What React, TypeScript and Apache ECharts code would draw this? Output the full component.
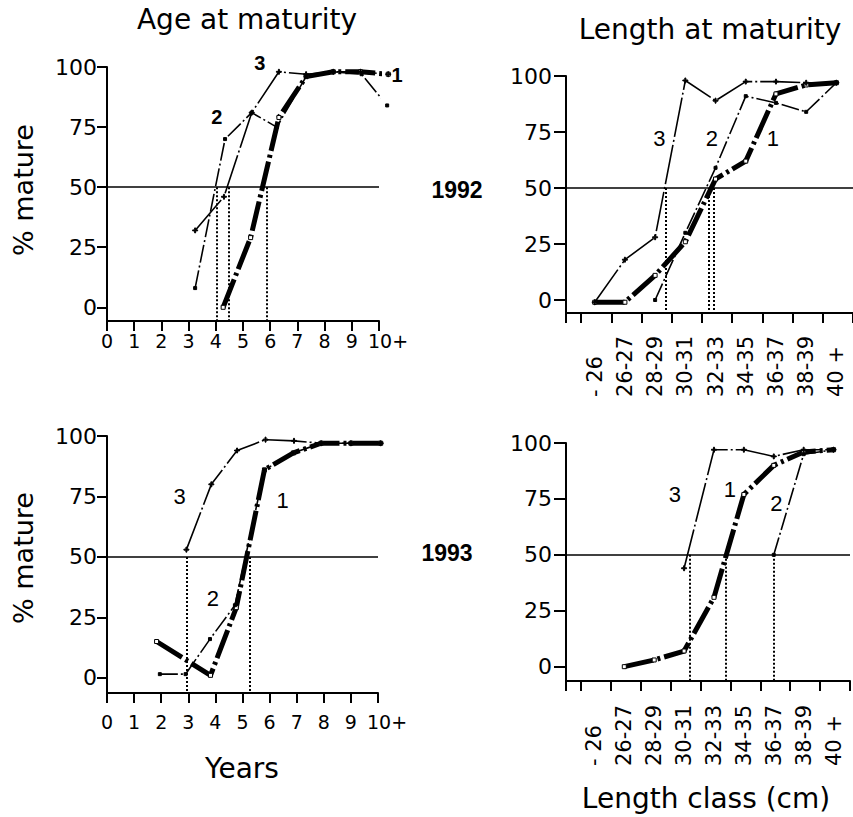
import React, { useEffect, useRef } from "react";
import * as echarts from "echarts";

// ---------- data ----------
const yearTicks = [0, 1, 2, 3, 4, 5, 6, 7, 8, 9, 10];
const pctTicks = [0, 25, 50, 75, 100];
const lengthClasses = ["- 26", "26-27", "28-29", "30-31", "32-33", "34-35", "36-37", "38-39", "40 +"];
const curveNames = ["1", "2", "3"];

// Age at maturity 1992 (age as plotted, % mature)
const age92Curve1Age = [4.27, 5.28, 6.32, 7.32, 8.32, 9.32, 10.34];
const age92Curve1Pct = [0, 29, 79, 96, 98, 98, 97];
const age92Curve2Age = [3.24, 4.34, 5.32, 6.24, 7.32, 8.32, 9.36, 10.3];
const age92Curve2Pct = [8, 70, 81, 75, 96, 98, 97, 84];
const age92Curve3Age = [3.24, 4.3, 5.32, 6.32, 7.32, 8.32, 9.32, 10.34];
const age92Curve3Pct = [32, 46, 81, 98, 97, 98, 98, 97];
const age92A50 = [4.05, 4.47, 5.87];
const age92LabelAge = [10.66, 4.04, 5.62];
const age92LabelPct = [96.5, 79, 101.5];

// Age at maturity 1993
const age93Curve1Age = [1.83, 3.82, 4.77, 5.81, 6.88, 7.9, 9.0, 10.1];
const age93Curve1Pct = [15, 1, 29, 86, 93, 97, 97, 97];
const age93Curve2Age = [1.95, 2.9, 3.8, 4.72, 5.81, 6.88, 7.9, 9.0, 10.1];
const age93Curve2Pct = [1.5, 1.5, 16, 30, 86, 93, 97, 97, 97];
const age93Curve3Age = [2.93, 3.85, 4.8, 5.85, 6.9, 7.9, 9.0, 10.1];
const age93Curve3Pct = [53, 80, 94, 98.5, 98, 97, 97, 97];
const age93A50 = [2.93, 5.25];
const age93LabelAge = [6.48, 3.91, 2.68];
const age93LabelPct = [73.4, 32.8, 74.8];

// Length at maturity 1992 (% mature per length class)
const len92Curve1 = [-1, -1, 11, 26, 54, 62, 92, 96, 97];
const len92Curve2 = [null, null, 0, 30, 59, 91, 88, 84, 97];
const len92Curve3 = [-1, 18, 28, 98, 89, 97.5, 97.5, 97, 97];
const len92L50 = [2.81, 4.22, 4.38]; // in class widths from the first class boundary
const len92LabelPos = [6.35, 4.33, 2.59];
const len92LabelPct = [72, 72, 72];

// Length at maturity 1993
const len93Curve1 = [null, 0, 3, 7, 31, 77, 90, 96, 97];
const len93Curve2 = [null, null, null, null, null, null, 50, 95, 97];
const len93Curve3 = [null, null, null, 44, 97, 97, 94, 97, 97];
const len93L50 = [3.65, 4.85, 6.45];
const len93LabelPos = [4.98, 6.54, 3.14];
const len93LabelPct = [79, 73, 77];

// ---------- styling helpers ----------
const BLACK = "#000";
const GEN = "DejaVu Sans";
const HELV = "Liberation Sans";
const PLUS = "path://M4,0H6V4H10V6H6V10H4V6H0V4H4Z";
const CLASS_CENTER = 0.45;

const CURVE_STYLE = [
  { width: 5, dash: [30, 4, 3, 4], symbol: "rect", size: 4, fill: "#fff", z: 3 },
  { width: 1.6, dash: [18, 3, 2, 3], symbol: "rect", size: 3, fill: BLACK, z: 4 },
  { width: 1.6, dash: [40, 3, 2, 3], symbol: PLUS, size: 5, fill: BLACK, z: 4 },
];

const zip = (xs: number[], ys: number[]) => xs.map((x, i) => [x, ys[i]]);
const classData = (vals: (number | null)[]) =>
  vals
    .map((v, i) => (v === null ? null : [i + CLASS_CENTER, v]))
    .filter((d) => d !== null) as number[][];

function curve(idx: number, k: number, data: number[][], extra: any = {}) {
  const s = CURVE_STYLE[k];
  return {
    type: "line",
    name: curveNames[k],
    xAxisIndex: idx,
    yAxisIndex: idx,
    data,
    clip: false,
    symbol: s.symbol,
    symbolSize: s.size,
    showSymbol: true,
    z: s.z,
    lineStyle: { color: BLACK, width: s.width, type: s.dash, cap: "butt" },
    itemStyle: { color: s.fill, borderColor: BLACK, borderWidth: 1 },
    ...extra,
  };
}

function refLines(a50: number[], yMin: number) {
  return {
    markLine: {
      silent: true,
      symbol: "none",
      animation: false,
      label: { show: false },
      lineStyle: { color: BLACK, width: 1.5, type: "solid" },
      data: [
        { yAxis: 50 },
        ...a50.map((x) => [
          { coord: [x, 50], lineStyle: { color: BLACK, width: 2, type: [2, 2] } },
          { coord: [x, yMin] },
        ]),
      ],
    },
  };
}

function labels(idx: number, xs: number[], ys: number[], size: number, weight: string) {
  return {
    type: "scatter",
    xAxisIndex: idx,
    yAxisIndex: idx,
    clip: false,
    silent: true,
    symbolSize: 1,
    itemStyle: { color: "rgba(0,0,0,0)", opacity: 1 },
    emphasis: { disabled: true },
    z: 6,
    data: curveNames.map((n, i) => ({ name: n, value: [xs[i], ys[i]] })),
    label: {
      show: true,
      position: "inside",
      formatter: "{b}",
      fontFamily: HELV,
      fontSize: size,
      fontWeight: weight,
      color: BLACK,
      opacity: 1,
      textBorderWidth: 0,
    },
  };
}

const axisLine = { show: true, onZero: false, lineStyle: { color: BLACK, width: 2 } };

function yAxis(idx: number, yMin: number, margin: number, tickLen: number) {
  return {
    type: "value",
    gridIndex: idx,
    min: yMin,
    max: 100,
    axisLine,
    axisTick: { show: true, length: tickLen, customValues: pctTicks, lineStyle: { color: BLACK, width: 2 } },
    axisLabel: { show: true, margin, customValues: pctTicks, fontFamily: GEN, fontSize: 22, color: BLACK },
    splitLine: { show: false },
  };
}

function ageAxis(idx: number, margin: number) {
  return {
    type: "value",
    gridIndex: idx,
    min: yearTicks[0],
    max: yearTicks[yearTicks.length - 1],
    interval: 1,
    axisLine,
    axisTick: { show: true, length: 10, lineStyle: { color: BLACK, width: 2 } },
    axisLabel: {
      show: true,
      margin,
      fontFamily: GEN,
      fontSize: 19,
      color: BLACK,
      formatter: (v: number) => (v === 10 ? "{p|10+}" : String(v)),
      rich: { p: { padding: [0, 0, 0, 18], fontFamily: GEN, fontSize: 19, color: BLACK } },
    },
    splitLine: { show: false },
  };
}

function lengthAxis(idx: number, margin: number) {
  const bounds = [-0.5, ...lengthClasses.map((_, i) => i), lengthClasses.length];
  return {
    type: "value",
    gridIndex: idx,
    min: -0.5,
    max: lengthClasses.length,
    axisLine,
    axisTick: { show: true, length: 10, customValues: bounds, lineStyle: { color: BLACK, width: 2 } },
    axisLabel: {
      show: true,
      margin,
      rotate: 90,
      align: "left",
      verticalAlign: "middle",
      customValues: lengthClasses.map((_, i) => i + CLASS_CENTER),
      formatter: (v: number) => lengthClasses[Math.floor(v)] ?? "",
      fontFamily: GEN,
      fontSize: 21,
      color: BLACK,
    },
    splitLine: { show: false },
  };
}

const Y_MIN = [-5.7, -5.8, -6.3, -6.4]; // TL, TR, BL, BR

function text(t: string, x: number, y: number, size: number, font: string, weight = "normal", rotation = 0) {
  return {
    type: "text",
    x,
    y,
    rotation,
    style: {
      text: t,
      fill: BLACK,
      font: `${weight} ${size}px "${font}"`,
      textAlign: "center",
      textVerticalAlign: "middle",
    },
  };
}

export default function App() {
  const ref = useRef<HTMLDivElement>(null);

  useEffect(() => {
    if (!ref.current) return;
    const chart = echarts.init(ref.current, null, { renderer: "svg" });

    const option: any = {
      animation: false,
      backgroundColor: "#fff",
      grid: [
        { left: 107, top: 67, width: 272, height: 254 },
        { left: 566, top: 76, width: 287, height: 237 },
        { left: 107, top: 436, width: 271, height: 257 },
        { left: 566, top: 443, width: 284, height: 238 },
      ],
      xAxis: [ageAxis(0, 10), lengthAxis(1, 84), ageAxis(2, 19), lengthAxis(3, 85)],
      yAxis: [
        yAxis(0, Y_MIN[0], 10, 10),
        yAxis(1, Y_MIN[1], 14, 12),
        yAxis(2, Y_MIN[2], 10, 10),
        yAxis(3, Y_MIN[3], 14, 12),
      ],
      series: [
        // 1992 age
        curve(0, 0, zip(age92Curve1Age, age92Curve1Pct), refLines(age92A50, Y_MIN[0])),
        curve(0, 1, zip(age92Curve2Age, age92Curve2Pct)),
        curve(0, 2, zip(age92Curve3Age, age92Curve3Pct)),
        labels(0, age92LabelAge, age92LabelPct, 20, "bold"),
        // 1992 length
        curve(1, 0, classData(len92Curve1), refLines(len92L50, Y_MIN[1])),
        curve(1, 1, classData(len92Curve2)),
        curve(1, 2, classData(len92Curve3)),
        labels(1, len92LabelPos, len92LabelPct, 22, "normal"),
        // 1993 age
        curve(2, 0, zip(age93Curve1Age, age93Curve1Pct), refLines(age93A50, Y_MIN[2])),
        curve(2, 1, zip(age93Curve2Age, age93Curve2Pct)),
        curve(2, 2, zip(age93Curve3Age, age93Curve3Pct)),
        labels(2, age93LabelAge, age93LabelPct, 22, "normal"),
        // 1993 length
        curve(3, 0, classData(len93Curve1), refLines(len93L50, Y_MIN[3])),
        curve(3, 1, classData(len93Curve2)),
        curve(3, 2, classData(len93Curve3)),
        labels(3, len93LabelPos, len93LabelPct, 22, "normal"),
      ],
      graphic: [
        text("Age at maturity", 247, 19, 28, GEN),
        text("Length at maturity", 710, 29, 28, GEN),
        text("% mature", 23, 190, 27, GEN, "normal", Math.PI / 2),
        text("% mature", 23, 558, 27, GEN, "normal", Math.PI / 2),
        text("Years", 242, 768, 28, GEN),
        text("Length class (cm)", 706, 798, 28, GEN),
        text("1992", 457, 190, 23, HELV, "bold"),
        text("1993", 447, 553, 23, HELV, "bold"),
      ],
    };

    chart.setOption(option);
    return () => chart.dispose();
  }, []);

  return (
    <div
      ref={ref}
      style={{ position: "fixed", left: 0, top: 0, width: 853, height: 817, background: "#fff" }}
    />
  );
}
